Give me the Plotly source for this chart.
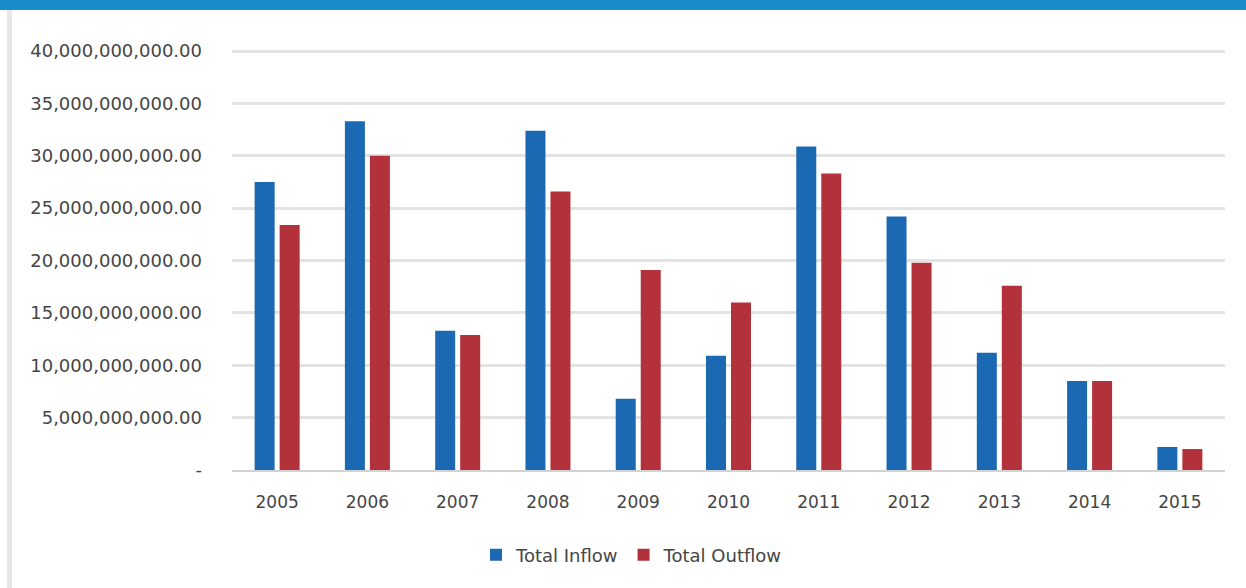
import plotly.graph_objects as go

# Annual totals (in currency units)
years = ["2005", "2006", "2007", "2008", "2009", "2010",
         "2011", "2012", "2013", "2014", "2015"]
total_inflow = [27.5e9, 33.3e9, 13.3e9, 32.4e9, 6.8e9, 10.9e9,
                30.9e9, 24.2e9, 11.2e9, 8.5e9, 2.2e9]
total_outflow = [23.4e9, 30.0e9, 12.9e9, 26.6e9, 19.1e9, 16.0e9,
                 28.3e9, 19.8e9, 17.6e9, 8.5e9, 2.0e9]

y_ticks = [0, 5e9, 10e9, 15e9, 20e9, 25e9, 30e9, 35e9, 40e9]
y_tick_labels = ["-", "5,000,000,000.00", "10,000,000,000.00",
                 "15,000,000,000.00", "20,000,000,000.00",
                 "25,000,000,000.00", "30,000,000,000.00",
                 "35,000,000,000.00", "40,000,000,000.00"]

BLUE = "#1c69b3"
RED = "#b3313b"
TEXT = "#454545"

ML, MR, MT, MB = 232, 21, 49, 118
PW = 1246 - ML - MR
PH = 588 - MT - MB

fig = go.Figure()
fig.add_trace(go.Bar(name="Total Inflow", x=years, y=total_inflow,
                     marker=dict(color=BLUE, line=dict(width=0))))
fig.add_trace(go.Bar(name="Total Outflow", x=years, y=total_outflow,
                     marker=dict(color=RED, line=dict(width=0))))

fig.update_layout(
    width=1246, height=588,
    margin=dict(l=ML, r=MR, t=MT, b=MB),
    paper_bgcolor="white", plot_bgcolor="white",
    barmode="group", bargap=0.446, bargroupgap=0.2,
    font=dict(family="DejaVu Sans", size=18, color=TEXT),
    showlegend=True,
    legend=dict(orientation="h", x=(476 - ML) / PW, xanchor="left",
                y=-(555 - (MT + PH)) / PH, yanchor="middle",
                font=dict(family="DejaVu Sans", size=18, color=TEXT),
                itemwidth=30, tracegroupgap=0),
    shapes=[
        # header band
        dict(type="rect", xref="paper", yref="paper",
             x0=-ML / PW, x1=1 + MR / PW, y0=1 + (MT - 10) / PH, y1=1 + MT / PH,
             fillcolor="#1a8bcd", line=dict(width=0), layer="above"),
        # left frame line
        dict(type="rect", xref="paper", yref="paper",
             x0=-(ML - 7) / PW, x1=-(ML - 12) / PW, y0=-MB / PH,
             y1=1 + (MT - 10) / PH,
             fillcolor="#e6e6e6", line=dict(width=0), layer="below"),
    ],
)

fig.update_yaxes(range=[0, 40.2e9], tickvals=y_ticks, ticktext=y_tick_labels,
                 showgrid=True, gridcolor="#e3e3e3", gridwidth=3,
                 zeroline=False, showline=False, ticks="",
                 ticklabelstandoff=29,
                 tickfont=dict(family="DejaVu Sans", size=18, color=TEXT))
fig.update_xaxes(showgrid=False, showline=True, linecolor="#d2d2d2",
                 linewidth=2, ticks="", ticklabelstandoff=16,
                 tickfont=dict(family="DejaVu Sans", size=17, color=TEXT))

fig.write_html("out.html")
